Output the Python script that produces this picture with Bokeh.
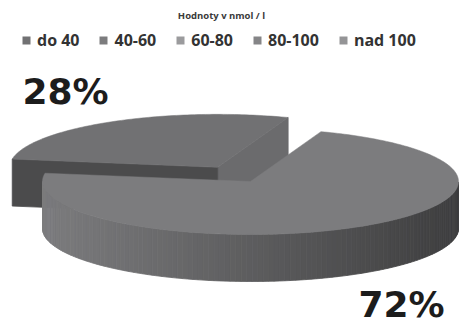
import math
from bokeh.plotting import figure
from bokeh.models import Range1d, Label, Legend, LegendItem, ColumnDataSource
from bokeh.embed import file_html
from bokeh.resources import INLINE

# ---- data ----
title = "Hodnoty v nmol / l"
categories = ["do 40", "40-60", "60-80", "80-100", "nad 100"]
values = [28, 72, 0, 0, 0]
colors = ["#717173", "#7c7c7e", "#9b9b9d", "#858587", "#949496"]

# ---- style / geometry ----
W, H = 468, 326
CX, CY = 250, 181
RX, RY = 208, 53
T = 47
START = 171.0
EXPLODE = [0.31, 0, 0, 0, 0]
LABEL_POS = [(65, 91), (401, 304), (0, 0), (0, 0), (0, 0)]
END_FACE = [0.66, 0.66, 0.66, 0.66, 0.66]
START_FACE = [0.95, 0.95, 0.95, 0.95, 0.95]


def shade(hexc, f):
    h = hexc.lstrip("#")
    r, g, b = (int(h[i:i + 2], 16) for i in (0, 2, 4))
    return "#%02x%02x%02x" % tuple(max(0, min(255, int(round(c * f)))) for c in (r, g, b))


def pt(cx, cy, deg):
    a = math.radians(deg)
    return cx + RX * math.cos(a), cy - RY * math.sin(a)


p = figure(width=W, height=H, x_range=Range1d(0, W), y_range=Range1d(H, 0),
           output_backend="svg", toolbar_location=None, min_border=0)
p.axis.visible = False
p.grid.visible = False
p.outline_line_color = None
p.background_fill_color = "white"

total = sum(values)
slices = []
a = START
for i, v in enumerate(values):
    if v <= 0:
        continue
    span = v / total * 360.0
    a2 = a
    a1 = a - span
    a = a1
    mid = math.radians((a1 + a2) / 2)
    e = EXPLODE[i]
    cx = CX + e * RX * math.cos(mid)
    cy = CY - e * RY * math.sin(mid)
    slices.append(dict(i=i, a1=a1, a2=a2, cx=cx, cy=cy, v=v))

# draw back slices first
for s in sorted(slices, key=lambda s: s["cy"]):
    i, a1, a2, cx, cy = s["i"], s["a1"], s["a2"], s["cx"], s["cy"]
    base = colors[i]
    xs, ys, fc = [], [], []
    # radial faces
    for ang, normal, f in ((a1, a1 - 90, START_FACE[i]), (a2, a2 + 90, END_FACE[i])):
        if math.sin(math.radians(normal)) < 0:
            ex, ey = pt(cx, cy, ang)
            xs.append([cx, ex, ex, cx])
            ys.append([cy, ey, ey + T, cy + T])
            fc.append(shade(base, f))
    # curved side strips
    n = max(2, int((a2 - a1) / 1.5))
    step = (a2 - a1) / n
    for k in range(n):
        t0 = a1 + k * step
        t1 = t0 + step
        if math.sin(math.radians((t0 + t1) / 2)) < 0:
            x0, y0 = pt(cx, cy, t0)
            x1, y1 = pt(cx, cy, t1)
            tt = ((x0 + x1) / 2 - (CX - RX)) / (2 * RX)
            tt = min(1, max(0, tt))
            xs.append([x0, x1, x1, x0])
            ys.append([y0, y1, y1 + T, y0 + T])
            fc.append(shade(base, 1.0 - 0.5 * tt))
    if xs:
        p.patches(xs=xs, ys=ys, fill_color=fc, line_color=fc, line_width=0.8)
    # top
    n = max(2, int((a2 - a1) / 1.0))
    tx, ty = [cx], [cy]
    for k in range(n + 1):
        x, y = pt(cx, cy, a1 + (a2 - a1) * k / n)
        tx.append(x)
        ty.append(y)
    p.patch(tx, ty, fill_color=base, line_color=base, line_width=0.5)

# percentage labels
for s in slices:
    lx, ly = LABEL_POS[s["i"]]
    p.add_layout(Label(x=lx, y=ly, text="%d%%" % round(s["v"] / total * 100),
                       text_font="DejaVu Sans", text_font_style="bold",
                       text_font_size="36px", text_color="#1c1c1c",
                       text_align="center", text_baseline="middle"))

# title
p.add_layout(Label(x=221, y=15, text=title, text_font="Open Sans",
                   text_font_style="bold", text_font_size="9.5px",
                   text_color="#3a3a3a", text_align="center", text_baseline="middle"))

# legend (swatches only; no visible marks in the plot area)
items = []
for c, col in zip(categories, colors):
    src = ColumnDataSource(dict(x=[float("nan")], y=[float("nan")]))
    r = p.rect(x="x", y="y", width=1, height=1, source=src,
               fill_color=col, line_color=None)
    items.append(LegendItem(label=c, renderers=[r]))
legend = Legend(items=items, orientation="horizontal", location=(21, 275),
                margin=0, padding=0, border_line_color=None,
                background_fill_alpha=0, glyph_width=10, glyph_height=10,
                label_standoff=6, spacing=19, label_height=16,
                label_text_font="Open Sans", label_text_font_style="bold",
                label_text_font_size="16px", label_text_color="#333333")
p.add_layout(legend)

open("out.html", "w").write(file_html(p, INLINE))
